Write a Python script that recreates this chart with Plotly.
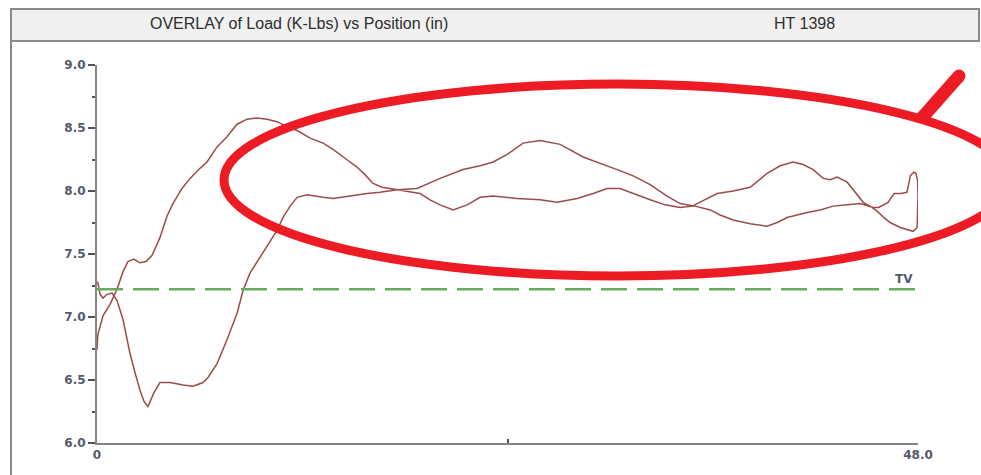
import plotly.graph_objects as go

W, H = 981, 475

# Outbound pass: position (in) and load (K-Lbs)
fwd_pos = [0.0, 0.05, 0.35, 0.76, 1.17, 1.52, 1.81, 2.16, 2.51, 2.87, 3.22, 3.68,
           4.09, 4.44, 4.97, 5.44, 6.02, 6.43, 7.02, 7.60, 8.19, 8.77, 9.36, 9.94,
           10.53, 11.11, 11.70, 12.46, 13.22, 13.80, 14.50, 15.20, 15.67, 16.14,
           16.67, 17.13, 18.13, 18.89, 19.47, 20.06, 20.82, 21.64, 22.40, 23.16,
           24.56, 25.91, 26.90, 28.07, 29.01, 29.82, 30.58, 31.35, 32.34, 33.22,
           34.09, 34.80, 35.50, 36.26, 37.19, 38.19, 39.18, 39.94, 40.70, 41.29,
           41.87, 42.46, 42.87, 43.27, 43.86, 44.33, 44.80, 45.20, 45.61, 46.00,
           46.37, 46.96, 47.40, 47.72, 47.95, 48.0, 48.0, 47.98, 47.88, 47.75]
fwd_load = [6.74, 6.86, 7.01, 7.10, 7.22, 7.36, 7.44, 7.46, 7.43, 7.44, 7.49, 7.63,
            7.80, 7.90, 8.02, 8.10, 8.18, 8.23, 8.35, 8.43, 8.53, 8.57, 8.58, 8.57,
            8.55, 8.51, 8.48, 8.42, 8.38, 8.33, 8.26, 8.19, 8.13, 8.06,
            8.03, 8.02, 8.00, 7.98, 7.93, 7.89, 7.85, 7.89, 7.95, 7.96,
            7.94, 7.93, 7.91, 7.94, 7.98, 8.02, 8.02, 7.98, 7.93, 7.89,
            7.87, 7.88, 7.93, 7.98, 8.00, 8.03, 8.14, 8.20, 8.23, 8.21,
            8.17, 8.10, 8.09, 8.11, 8.07, 7.99, 7.91, 7.88, 7.84, 7.79,
            7.75, 7.71, 7.69, 7.68, 7.71, 7.85, 7.97, 8.08, 8.14, 8.15]

# Return pass back to the start position
ret_pos = [47.55, 47.45, 47.35, 47.00, 46.60, 46.25, 45.70, 45.38, 44.62, 43.86,
           43.04, 42.28, 41.52, 40.35, 39.77, 39.18, 38.19, 37.19, 36.43, 35.85,
           34.97, 34.09, 33.33, 32.34, 31.35, 30.41, 29.42, 28.42, 27.08, 25.91,
           24.91, 23.98, 23.16, 22.40, 21.40, 20.64, 20.06, 18.71, 17.54, 16.55,
           15.79, 14.80, 13.80, 13.22, 12.28, 11.70, 11.29, 10.88, 10.53, 10.12,
           9.71, 8.95, 8.54, 8.19, 7.60, 7.02, 6.49, 6.20, 5.61, 5.03, 4.27, 3.68,
           3.33, 2.98, 2.75, 2.51, 2.22, 1.93, 1.52, 1.17, 0.88, 0.58, 0.35, 0.18,
           0.06, 0.0]
ret_load = [8.12, 8.05, 7.99, 7.98, 7.98, 7.91, 7.87, 7.87, 7.90, 7.89,
            7.88, 7.85, 7.83, 7.79, 7.75, 7.72, 7.74, 7.77, 7.81, 7.85,
            7.88, 7.90, 7.96, 8.05, 8.12, 8.17, 8.22, 8.27, 8.37, 8.40,
            8.38, 8.29, 8.23, 8.20, 8.17, 8.13, 8.10, 8.02, 8.01, 7.99,
            7.98, 7.96, 7.94, 7.95, 7.97, 7.95, 7.88, 7.79, 7.69, 7.60,
            7.51, 7.35, 7.21, 7.03, 6.82, 6.63, 6.52, 6.48, 6.45, 6.46, 6.48, 6.48,
            6.40, 6.29, 6.33, 6.42, 6.56, 6.71, 6.98, 7.13, 7.19, 7.18, 7.15, 7.18,
            7.27, 7.28]

tv_load = 7.22
x_range = [0, 48]
y_range = [6.0, 9.0]
y_tickvals = [6.0, 6.5, 7.0, 7.5, 8.0, 8.5, 9.0]
y_ticktext = ["6.0", "6.5", "7.0", "7.5", "8.0", "8.5", "9.0"]
x_tickvals = [0, 24, 48]
x_ticktext = ["0", "", "48.0"]

title_text = "OVERLAY of Load (K-Lbs) vs Position (in)"
heat_text = "HT 1398"
tv_text = "TV"


def px_x(px):
    return px / W


def px_y(py):
    return 1 - py / H


fig = go.Figure()

fig.add_trace(go.Scatter(
    x=fwd_pos + ret_pos, y=fwd_load + ret_load, mode="lines",
    line=dict(color="#9a4c4a", width=1.5), hoverinfo="skip", showlegend=False))

fig.add_trace(go.Scatter(
    x=x_range, y=[tv_load, tv_load], mode="lines",
    line=dict(color="#66ac5e", width=2.5, dash="26px,10px"),
    hoverinfo="skip", showlegend=False))

shapes = [
    # header band
    dict(type="rect", xref="paper", yref="paper",
         x0=px_x(11), x1=px_x(979), y0=px_y(41), y1=px_y(9),
         fillcolor="#f0f0f0", line=dict(color="#8a8a8a", width=2), layer="below"),
    # frame edge below the header
    dict(type="line", xref="paper", yref="paper",
         x0=px_x(11), x1=px_x(11), y0=px_y(41), y1=px_y(476),
         line=dict(color="#8a8a8a", width=2)),
    # red highlight ellipse
    dict(type="circle", xref="paper", yref="paper",
         x0=px_x(224), x1=px_x(1010), y0=px_y(276), y1=px_y(84),
         line=dict(color="#ed1c24", width=9)),
    # pointer stroke
    dict(type="line", xref="paper", yref="paper",
         x0=px_x(921), x1=px_x(959), y0=px_y(119), y1=px_y(76),
         line=dict(color="#ed1c24", width=13)),
    dict(type="circle", xref="paper", yref="paper",
         x0=px_x(952.5), x1=px_x(965.5), y0=px_y(82.5), y1=px_y(69.5),
         fillcolor="#ed1c24", line=dict(color="#ed1c24", width=0)),
]

annotations = [
    dict(text=title_text, xref="paper", yref="paper", x=px_x(299), y=px_y(24),
         xanchor="center", yanchor="middle", showarrow=False,
         font=dict(family="Liberation Sans, Arial", size=16, color="#2e2e2e")),
    dict(text=heat_text, xref="paper", yref="paper", x=px_x(804), y=px_y(24),
         xanchor="center", yanchor="middle", showarrow=False,
         font=dict(family="Liberation Sans, Arial", size=16, color="#2e2e2e")),
    dict(text="<b>" + tv_text + "</b>", xref="x", yref="y", x=47.2, y=tv_load,
         xanchor="center", yanchor="bottom", yshift=1, showarrow=False,
         font=dict(family="DejaVu Sans", size=12, color="#55596a")),
]

tick_font = dict(family="DejaVu Sans", size=12, color="#55596a", weight="bold")

fig.update_layout(
    width=W, height=H, autosize=False,
    margin=dict(l=0, r=0, t=0, b=0, pad=0, autoexpand=False),
    paper_bgcolor="white", plot_bgcolor="white",
    showlegend=False,
    shapes=shapes, annotations=annotations,
    xaxis=dict(
        domain=[px_x(97), px_x(918)], range=x_range, automargin=False,
        showgrid=False, zeroline=False,
        showline=True, linecolor="#858585", linewidth=2,
        ticks="inside", ticklen=4, tickwidth=1.5, tickcolor="#555555",
        tickvals=x_tickvals, ticktext=x_ticktext,
        tickfont=tick_font,
    ),
    yaxis=dict(
        domain=[px_y(443), px_y(65)], range=y_range, automargin=False,
        showgrid=False, zeroline=False,
        showline=True, linecolor="#858585", linewidth=2,
        ticks="outside", ticklen=7, tickwidth=1.5, tickcolor="#555555",
        tickvals=y_tickvals, ticktext=y_ticktext,
        minor=dict(ticks="outside", ticklen=3, tickwidth=1.5, tickcolor="#555555",
                   dtick=0.25, showgrid=False),
        tickfont=tick_font,
    ),
)

# page without body margin so the figure fills the window exactly
fig.write_html("out.html",
               config={"responsive": False, "displayModeBar": False},
               post_script="document.body.style.margin='0';"
                           "document.body.style.overflow='hidden';")
